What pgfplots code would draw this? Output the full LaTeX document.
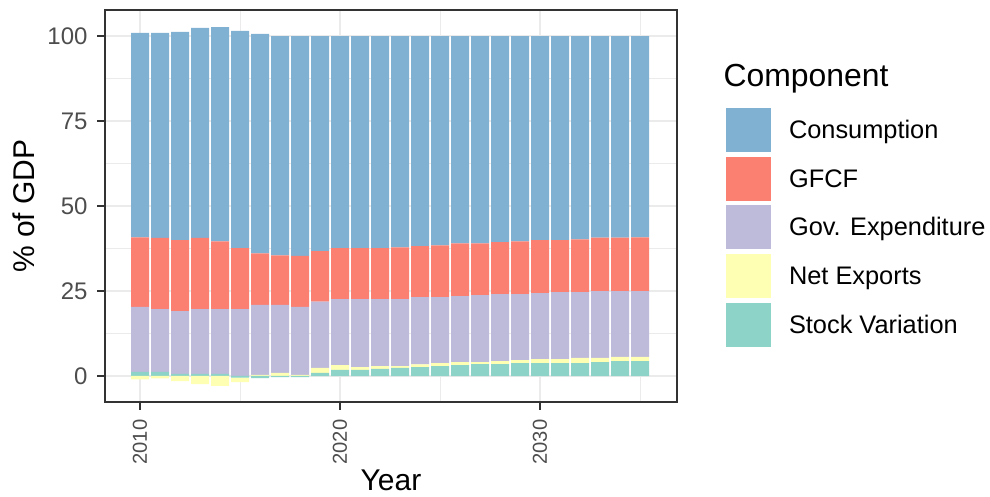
\documentclass[border=0pt]{standalone}
\usepackage{pgfplots}
\pgfplotsset{compat=1.18}
\usepackage{pgfplotstable}
\usepackage{fontspec}
\setmainfont{Liberation Sans}
\definecolor{cCons}{HTML}{80B1D3}
\definecolor{cGFCF}{HTML}{FB8072}
\definecolor{cGE}{HTML}{BEBADA}
\definecolor{cNE}{HTML}{FFFFB3}
\definecolor{cSV}{HTML}{8DD3C7}
\definecolor{grey92}{HTML}{EBEBEB}
\definecolor{grey30}{HTML}{4D4D4D}
\definecolor{grey20}{HTML}{333333}

\pgfplotstableread{
year SVp NEp GE GFCF Cons SVn NEn
2010 1.2 0.0 19.1 20.5 60.1 0.0 -1.0
2011 1.2 0.0 18.5 20.9 60.3 0.0 -0.7
2012 0.6 0.0 18.5 20.9 61.2 0.0 -1.5
2013 0.6 0.0 19.1 20.9 61.8 0.0 -2.4
2014 0.6 0.0 19.1 19.9 63.0 0.0 -2.9
2015 0.0 0.0 19.7 17.9 63.9 -0.5 -1.3
2016 0.0 0.3 20.6 15.2 64.5 -0.6 0.0
2017 0.0 0.9 20.0 14.6 64.5 -0.3 0.0
2018 0.0 0.3 20.0 15.0 64.7 -0.3 0.0
2019 0.9 1.5 19.5 14.8 63.3 0.0 0.0
2020 1.8 1.4 19.4 15.0 62.4 0.0 0.0
2021 1.8 0.8 20.0 15.0 62.4 0.0 0.0
2022 2.1 0.8 19.7 15.0 62.4 0.0 0.0
2023 2.4 0.5 19.7 15.2 62.2 0.0 0.0
2024 2.6 0.8 19.8 15.0 61.8 0.0 0.0
2025 2.9 0.9 19.4 15.2 61.6 0.0 0.0
2026 3.2 0.9 19.4 15.5 61.0 0.0 0.0
2027 3.5 0.6 19.7 15.2 61.0 0.0 0.0
2028 3.5 0.9 19.7 15.3 60.6 0.0 0.0
2029 3.8 0.9 19.4 15.5 60.4 0.0 0.0
2030 3.8 1.2 19.4 15.6 60.0 0.0 0.0
2031 3.8 1.2 19.7 15.3 60.0 0.0 0.0
2032 3.8 1.5 19.4 15.5 59.8 0.0 0.0
2033 4.1 1.2 19.7 15.7 59.3 0.0 0.0
2034 4.4 1.2 19.4 15.7 59.3 0.0 0.0
2035 4.4 1.2 19.4 15.8 59.2 0.0 0.0
}\data

\pgfplotsset{
  leg/.style={legend image code/.code={\fill[##1] (0pt,-4.9pt) rectangle (16.5pt,11.2pt);}},
}

\begin{document}
\begin{tikzpicture}
\useasboundingbox (-38.5pt,-34.83pt) rectangle (324.5pt,147.4pt);
\begin{axis}[
  scale only axis, width=209.73pt, height=143.73pt,
  xmin=2008.25, xmax=2036.85, ymin=-7.65, ymax=107.65,
  ybar stacked, bar width=0.9, clip=false,
  axis line style={grey20, line width=0.7pt},
  xtick={2010,2020,2030}, minor xtick={2015,2025,2035},
  ytick={0,25,50,75,100}, minor ytick={12.5,37.5,62.5,87.5},
  grid=both,
  major grid style={grey92, line width=0.65pt},
  minor grid style={grey92, line width=0.35pt},
  tick align=outside, major tick length=2.9pt, minor tick length=0pt,
  tick style={grey20, line width=0.7pt},
  xtick pos=bottom, ytick pos=left,
  /pgf/number format/assume math mode=true,
  /pgf/number format/1000 sep={},
  xticklabel style={rotate=90, anchor=east, font=\fontsize{7.4}{8}\selectfont, text=grey30},
  yticklabel style={font=\fontsize{8.8}{10}\selectfont, text=grey30},
  xlabel={Year}, ylabel={\% of GDP},
  xlabel style={at={(axis description cs:0.5,-0.2245)}, anchor=base, font=\fontsize{11}{13}\selectfont},
  ylabel style={at={(axis description cs:-0.1224,0.5)}, anchor=base, rotate=0, font=\fontsize{11}{13}\selectfont},
  reverse legend,
  legend cell align=left,
  legend style={at={(axis description cs:1.0857,0.75)}, anchor=north west, draw=none, fill=none,
    inner sep=0pt, outer sep=0pt, row sep=1.76pt, font=\fontsize{9.3}{10}\selectfont,
    /tikz/every odd column/.append style={column sep=6.6pt},
    nodes={inner sep=0pt, anchor=base west}},
]
\addplot[fill=cSV, draw=none, leg] table[x=year, y=SVp]{\data};
\addlegendentry{Stock Variation}
\addplot[fill=cNE, draw=none, leg] table[x=year, y=NEp]{\data};
\addlegendentry{Net Exports}
\addplot[fill=cGE, draw=none, leg] table[x=year, y=GE]{\data};
\addlegendentry{Gov. Expenditure}
\addplot[fill=cGFCF, draw=none, leg] table[x=year, y=GFCF]{\data};
\addlegendentry{GFCF}
\addplot[fill=cCons, draw=none, leg] table[x=year, y=Cons]{\data};
\addlegendentry{Consumption}
\node[anchor=base west, inner sep=0pt, font=\fontsize{11.7}{13}\selectfont] at (axis description cs:1.0804,0.8036) {Component};
\end{axis}
\begin{axis}[
  scale only axis, width=209.73pt, height=143.73pt,
  xmin=2008.25, xmax=2036.85, ymin=-7.65, ymax=107.65,
  ybar stacked, bar width=0.9, hide axis,
]
\addplot[fill=cSV, draw=none] table[x=year, y=SVn]{\data};
\addplot[fill=cNE, draw=none] table[x=year, y=NEn]{\data};
\end{axis}
\end{tikzpicture}
\end{document}
